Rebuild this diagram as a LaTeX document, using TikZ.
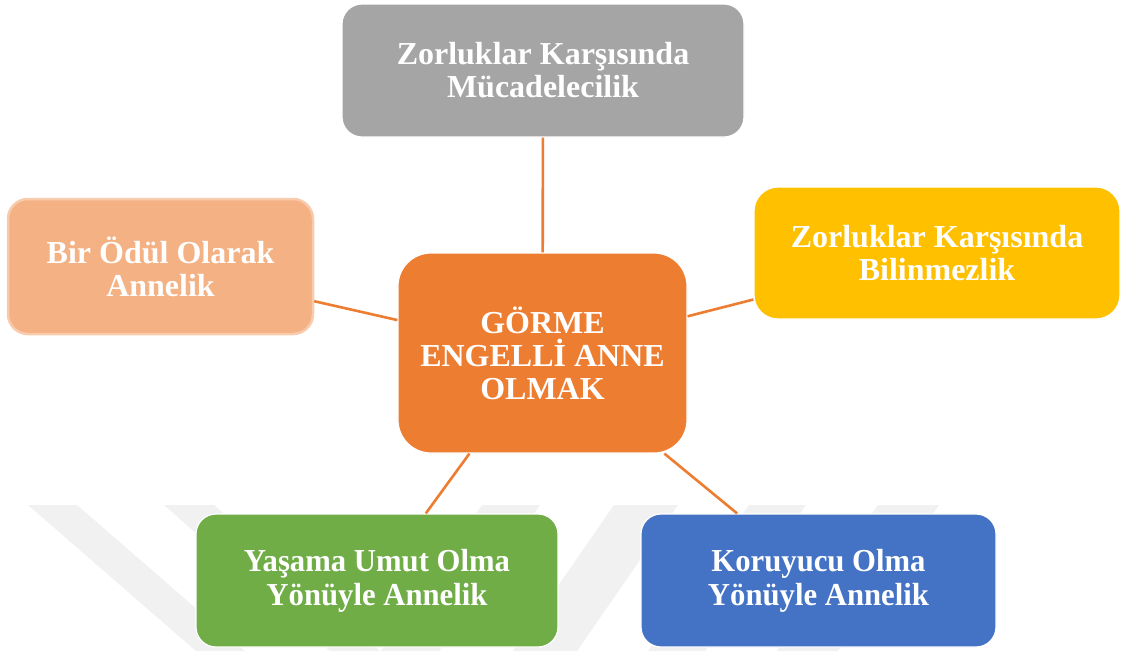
\documentclass[tikz,border=0pt]{standalone}
\usepackage{fontspec}
\setmainfont{Liberation Serif}
\newfontfamily\condserif[FakeStretch=0.96]{Liberation Serif}
\definecolor{grayC}{HTML}{A5A5A5}
\definecolor{peachC}{HTML}{F4B183}
\definecolor{peachEdge}{HTML}{F8CBAD}
\definecolor{yellowC}{HTML}{FFC000}
\definecolor{orangeC}{HTML}{ED7D31}
\definecolor{greenC}{HTML}{70AD47}
\definecolor{blueC}{HTML}{4472C4}
\definecolor{wmark}{HTML}{F1F1F1}
\begin{document}
\begin{tikzpicture}[x=1pt,y=-1pt,
  box/.style={draw=white, line width=1.2pt, rounded corners=20pt, inner sep=0pt,
    align=center, text=white, font=\bfseries\fontsize{32}{33}\selectfont},
  lowbox/.style={box, font=\condserif\bfseries\fontsize{32}{34}\selectfont},
  link/.style={draw=orangeC, line width=2.6pt},
  band/.style={fill=wmark, draw=none}]
\useasboundingbox[fill=white] (0,0) rectangle (1121,651);
% faint watermark bands
\fill[band] (28,505) -- (77,505) -- (245,651) -- (196,651) -- cycle;
\fill[band] (164,505) -- (214,505) -- (380,651) -- (330,651) -- cycle;
\fill[band] (482,505) -- (540,505) -- (439,651) -- (381,651) -- cycle;
\fill[band] (614,505) -- (678,505) -- (577,651) -- (513,651) -- cycle;
\fill[band] (749,505) -- (806,505) -- (705,651) -- (648,651) -- cycle;
\fill[band] (878,505) -- (939,505) -- (838,651) -- (777,651) -- cycle;
% nodes
\node[box, fill=orangeC, minimum width=289pt, minimum height=200pt, rounded corners=33pt]
  (center) at (542.5,353) {GÖRME\\ENGELLİ ANNE\\OLMAK};
\node[box, fill=grayC, minimum width=402pt, minimum height=133pt]
  (top) at (543,70.5) {Zorluklar Karşısında\\Mücadelecilik};
\node[box, fill=peachC, draw=peachEdge, line width=2.5pt, minimum width=305pt, minimum height=135pt]
  (left) at (160.5,266.5) {Bir Ödül Olarak\\Annelik};
\node[box, fill=yellowC, minimum width=366pt, minimum height=132pt, rounded corners=24pt]
  (right) at (937,253) {Zorluklar Karşısında\\Bilinmezlik};
\node[lowbox, fill=greenC, minimum width=362pt, minimum height=133pt]
  (bl) at (377,580.5) {Yaşama Umut Olma\\Yönüyle Annelik};
\node[lowbox, fill=blueC, minimum width=355pt, minimum height=133pt]
  (br) at (818.5,580.5) {Koruyucu Olma\\Yönüyle Annelik};
% connectors
\draw[link] (center) -- (top);
\draw[link] (center) -- (left);
\draw[link] (center) -- (right);
\draw[link] (center) -- (bl);
\draw[link] (center) -- (br);
\end{tikzpicture}
\end{document}
